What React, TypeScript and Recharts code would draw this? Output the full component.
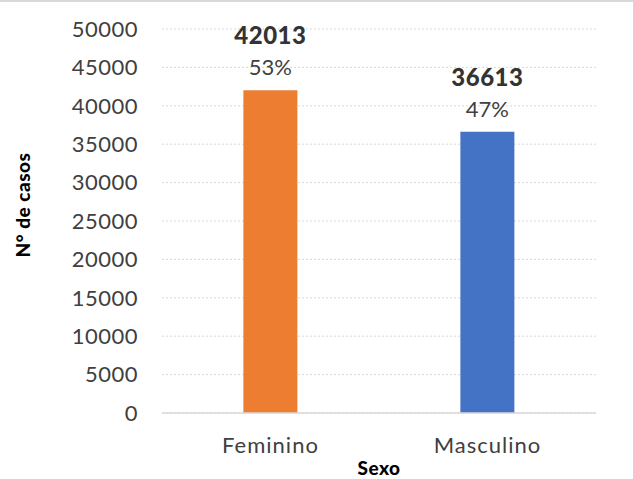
import { Bar, BarChart, CartesianGrid, Cell, LabelList, XAxis, YAxis } from "recharts";

const categories = ["Feminino", "Masculino"];
const casos = [42013, 36613];
const percentuais = ["53%", "47%"];
const barColors = ["#ED7D31", "#4472C4"];
const yTicks = [0, 5000, 10000, 15000, 20000, 25000, 30000, 35000, 40000, 45000, 50000];

const data = categories.map((sexo, i) => ({
  sexo,
  casos: casos[i],
  pct: percentuais[i],
}));

const FONT = "Lato, 'Noto Sans', sans-serif";
const TEXT = "#404040";

function ValueLabel(props: any) {
  const { x, y, width, index } = props;
  const cx = x + width / 2;
  return (
    <g>
      <text
        x={cx}
        y={y - 46}
        textAnchor="middle"
        fontFamily={FONT}
        fontWeight={900}
        fontSize={24}
        letterSpacing={0.5}
        fill="#333333"
      >
        {casos[index]}
      </text>
      <text
        x={cx}
        y={y - 15}
        textAnchor="middle"
        fontFamily={FONT}
        fontSize={22}
        fill={TEXT}
      >
        {percentuais[index]}
      </text>
    </g>
  );
}

function YTitle(props: any) {
  const { viewBox } = props;
  const cx = 22;
  const cy = viewBox.y + viewBox.height / 2 - 16;
  return (
    <text
      x={cx}
      y={cy}
      transform={`rotate(-90 ${cx} ${cy})`}
      textAnchor="middle"
      dominantBaseline="central"
      fontFamily={FONT}
      fontWeight={900}
      fontSize={19}
      letterSpacing={0.5}
      fill="#000"
    >
      N° de casos
    </text>
  );
}

export default function App() {
  return (
    <div
      style={{
        position: "fixed",
        left: 0,
        top: 0,
        width: 633,
        height: 479,
        background: "#fff",
        borderTop: "2px solid #d9d9d9",
        boxSizing: "border-box",
      }}
    >
      <BarChart
        width={633}
        height={477}
        data={data}
        margin={{ top: 27, right: 37, left: 32, bottom: 0 }}
        barCategoryGap="37.5%"
      >
        <CartesianGrid
          strokeDasharray="2 2"
          stroke="#d9d9d9"
          vertical={false}
        />
        <XAxis
          dataKey="sexo"
          height={66}
          tickLine={false}
          tickSize={0}
          tickMargin={24}
          axisLine={{ stroke: "#d9d9d9", strokeWidth: 1.5 }}
          tick={{ fill: TEXT, fontSize: 22, fontFamily: FONT, letterSpacing: 1 }}
          label={{
            value: "Sexo",
            position: "insideBottom",
            offset: 4,
            fill: "#000",
            fontWeight: 900,
            fontSize: 19,
            fontFamily: FONT,
            letterSpacing: 0.5,
          }}
        />
        <YAxis
          width={130}
          domain={[0, 50000]}
          ticks={yTicks}
          interval={0}
          axisLine={false}
          tickLine={false}
          tickSize={0}
          tickMargin={24}
          tick={{ fill: TEXT, fontSize: 22, fontFamily: FONT, letterSpacing: 0.5 }}
          label={<YTitle />}
        />
        <Bar dataKey="casos" isAnimationActive={false}>
          {data.map((d, i) => (
            <Cell key={d.sexo} fill={barColors[i]} />
          ))}
          <LabelList dataKey="casos" content={<ValueLabel />} />
        </Bar>
      </BarChart>
    </div>
  );
}
